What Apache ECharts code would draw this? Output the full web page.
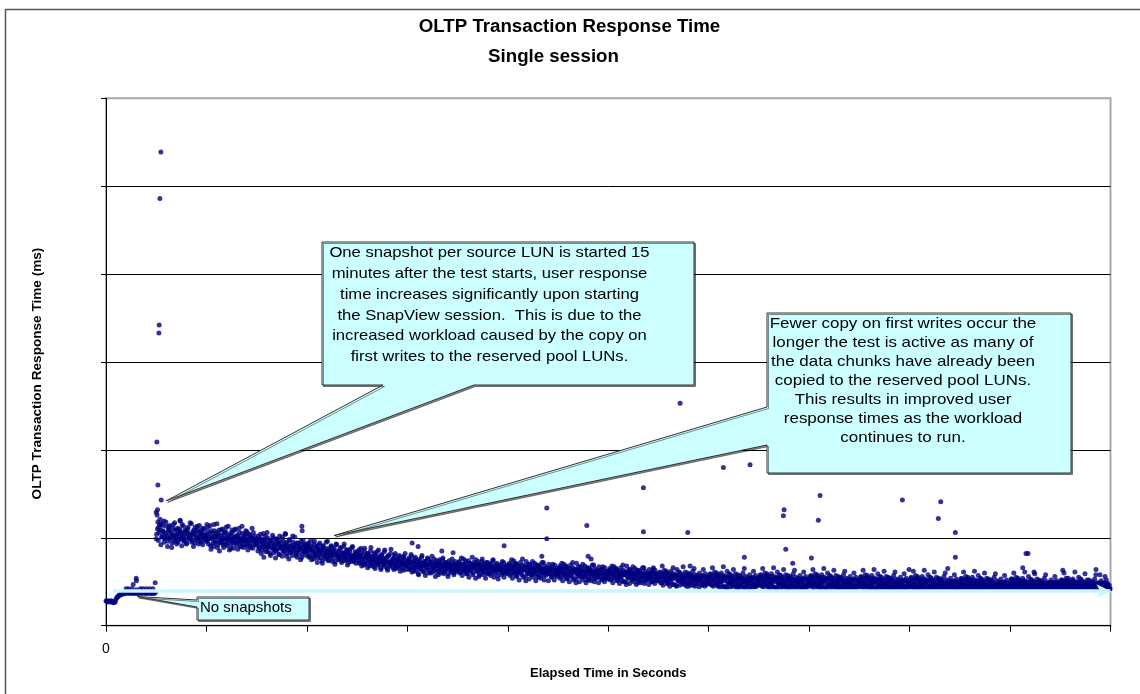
<!DOCTYPE html>
<html><head><meta charset="utf-8">
<script src="https://cdn.jsdelivr.net/npm/echarts@6/dist/echarts.min.js"></script>
<style>html,body{margin:0;padding:0;background:#fff}#c{width:1140px;height:694px}</style>
</head><body><div id="c"></div>
<script>
// ---- axis setup ----
const xTickLabels = ['0'];
const xRangeSec = [0, 18000, 1800];
const yRangeMs = [0, 60, 10];

// ---- data ----
const sampleSec = 15;
const preSnapshotMs = [2.8,2.8,2.7,2.8,2.8,2.7,2.8,2.8,2.7,2.6,2.7,2.7,3.0,3.2,3.3,3.4,3.5,3.5,3.6,3.6,3.6,3.7,3.7,3.7,4.2,3.7,3.8,4.2,3.7,3.7,3.8,4.2,3.7,3.7,3.8,3.7,4.1,3.7,3.7,3.8,3.7,4.2,3.7,3.7,4.2,3.8,3.7,3.7,4.2,3.7,3.7,3.8,4.2,3.7,3.7,3.7,4.2,3.7,3.7,3.8];
const snapshotStartSec = 900;
const segmentSec = 900;
// first reading in each half-sample slot, one row per 900 s
const postSnapshotMs = [
[12.9,12.6,11.8,11.2,11.5,10.9,11.6,10.2,10.8,11.9,9.9,10.5,11.3,10.1,9.6,10.9,11.4,10.0,10.6,9.4,11.1,10.3,11.7,9.8,10.4,10.9,9.5,10.2,11.0,10.7,9.9,11.5,10.1,9.6,10.4,10.8,9.3,10.6,11.2,9.9,10.3,10.0,11.6,9.7,10.5,10.9,9.4,10.2,10.7,11.3,9.8,10.1,10.6,9.5,10.9,10.3,11.1,9.9,10.4,10.0],
[10.3,9.6,11.2,9.9,10.5,9.1,10.8,10.0,9.4,11.5,10.2,9.7,10.6,8.9,10.1,10.9,9.5,10.3,9.8,11.0,9.2,10.4,9.9,10.7,9.3,10.0,11.3,9.6,10.2,8.8,9.9,10.6,9.4,10.1,10.9,9.7,9.2,10.3,9.8,11.1,9.5,10.0,9.0,10.5,9.7,9.3,10.2,10.8,9.6,9.1,9.9,10.4,9.4,8.9,10.1,9.7,10.6,9.2,9.8,9.5],
[9.8,9.1,10.2,8.8,9.5,9.9,8.6,9.3,10.5,9.0,9.6,8.4,9.2,10.0,8.9,9.4,8.2,9.7,9.1,10.3,8.7,9.0,9.5,8.5,9.8,8.9,9.3,8.1,9.6,9.0,8.7,10.1,8.4,9.2,8.8,9.5,7.9,9.0,8.6,9.7,8.3,9.1,8.8,10.2,8.5,8.9,9.3,8.0,9.4,8.6,8.2,9.0,8.7,9.6,7.8,8.9,8.4,9.2,8.6,8.8],
[8.9,8.2,9.4,8.6,7.9,9.1,8.4,8.8,7.6,9.6,8.3,8.0,8.9,7.7,9.2,8.5,8.1,8.7,7.4,9.0,8.2,8.6,7.8,9.5,8.3,7.9,8.8,7.5,8.4,9.1,8.0,7.7,8.6,8.2,7.3,9.3,8.1,7.9,8.5,7.6,8.8,8.0,7.4,8.3,9.0,7.7,8.2,7.5,8.6,7.9,7.2,8.4,8.0,7.6,8.9,7.8,7.3,8.1,7.7,8.3],
[8.1,7.5,8.6,7.8,7.2,8.3,7.6,8.0,6.9,8.8,7.4,7.9,7.1,8.2,7.7,6.8,8.5,7.3,7.9,7.5,6.7,8.1,7.6,7.2,8.4,7.0,7.8,7.4,6.6,8.0,7.3,7.7,6.9,8.6,7.1,7.5,6.5,7.9,7.2,6.8,8.2,7.4,7.0,7.6,6.4,8.0,7.1,6.7,7.5,7.3,6.6,7.8,7.0,6.9,7.4,6.3,7.7,7.1,6.8,7.2],
[7.3,6.8,7.7,6.5,7.1,7.9,6.6,7.4,6.2,7.0,7.6,6.7,7.2,5.9,7.5,6.9,6.4,7.8,6.8,7.1,6.1,7.3,6.6,7.0,7.7,6.3,6.9,7.4,6.0,7.2,6.7,6.5,7.6,6.8,6.2,7.1,6.9,5.8,7.3,6.6,7.0,6.4,7.5,6.7,6.1,7.2,6.8,6.5,7.0,5.9,7.4,6.6,6.9,6.3,7.1,6.7,6.0,7.3,6.5,6.8],
[6.9,6.4,7.3,6.7,6.1,7.0,6.5,7.6,6.8,6.2,7.1,6.6,5.9,7.4,6.7,6.3,7.0,6.9,6.0,7.2,6.5,6.8,7.5,6.2,6.6,7.0,5.8,6.9,6.4,7.3,6.7,6.1,7.1,6.5,6.8,5.9,7.2,6.6,6.3,7.0,6.7,6.0,7.4,6.4,6.9,6.2,6.6,7.1,5.7,6.8,6.5,6.3,7.0,6.6,6.0,7.2,6.4,6.7,6.1,6.9],
[6.7,6.2,7.1,6.5,5.9,6.9,6.4,7.4,6.0,6.6,7.0,5.7,6.8,6.3,6.1,7.2,6.5,5.8,6.9,6.4,6.7,5.6,7.3,6.2,6.6,6.0,7.0,6.3,5.8,6.8,6.5,6.1,7.1,5.9,6.4,6.7,5.5,6.9,6.2,6.6,6.0,7.2,6.3,5.7,6.8,6.5,6.1,6.4,5.9,7.0,6.2,6.6,5.6,6.7,6.3,6.0,6.9,5.8,6.5,6.2],
[6.4,5.9,6.8,6.2,5.6,6.6,6.1,7.0,5.8,6.3,6.7,5.4,6.5,6.0,5.7,6.9,6.2,5.5,6.6,6.1,6.4,5.3,7.1,5.9,6.3,5.8,6.7,6.0,5.5,6.5,6.2,5.7,6.8,5.6,6.1,6.4,5.2,6.6,5.9,6.3,5.7,6.9,6.0,5.4,6.5,6.2,5.8,6.1,5.5,6.7,5.9,6.3,5.3,6.4,6.0,5.6,6.6,5.4,6.2,5.8],
[6.1,5.6,6.5,5.9,5.3,6.3,5.8,6.7,5.5,6.0,6.4,5.2,6.2,5.7,5.4,6.6,5.9,5.1,6.3,5.8,6.1,5.0,6.8,5.6,6.0,5.5,6.4,5.7,5.2,6.2,5.9,5.4,6.5,5.3,5.8,6.1,4.9,6.3,5.6,6.0,5.4,6.6,5.7,5.1,6.2,5.9,5.5,5.8,5.2,6.4,5.6,6.0,5.0,6.1,5.7,5.3,6.3,5.1,5.9,5.5],
[5.7,5.2,6.1,5.5,4.9,5.9,5.4,6.3,5.1,5.6,6.0,4.8,5.8,5.3,5.0,6.2,5.5,4.7,5.9,5.4,5.7,4.6,6.4,5.2,5.6,5.1,6.0,5.3,4.8,5.8,5.5,5.0,6.1,4.9,5.4,5.7,4.5,5.9,5.2,5.6,5.0,6.2,5.3,4.7,5.8,5.5,5.1,5.4,4.8,6.0,5.2,5.6,4.6,5.7,5.3,4.9,5.9,4.7,5.5,5.1],
[5.5,4.9,5.9,5.2,4.6,5.7,5.1,6.1,4.8,5.4,5.8,4.5,5.6,5.0,4.7,6.0,5.3,4.4,5.7,5.1,5.5,4.4,6.2,4.9,5.4,4.8,5.8,5.0,4.5,5.6,5.2,4.7,5.9,4.6,5.1,5.5,4.3,5.7,4.9,5.3,4.7,6.0,5.0,4.4,5.6,5.2,4.8,5.1,4.5,5.8,4.9,5.4,4.4,5.5,5.0,4.6,5.7,4.5,5.3,4.8],
[5.4,4.8,5.8,5.1,4.5,5.6,5.0,6.0,4.7,5.3,5.7,4.4,5.5,4.9,4.6,5.9,5.2,4.4,5.6,5.0,5.4,4.3,6.1,4.8,5.3,4.7,5.7,4.9,4.4,5.5,5.1,4.6,5.8,4.5,5.0,5.4,4.3,5.6,4.8,5.2,4.6,5.9,4.9,4.4,5.5,5.1,4.7,5.0,4.4,5.7,4.8,5.3,4.3,5.4,4.9,4.5,5.6,4.4,5.2,4.7],
[5.3,4.7,5.7,5.0,4.5,5.5,4.9,5.9,4.6,5.2,5.6,4.4,5.4,4.8,4.5,5.8,5.1,4.3,5.5,4.9,5.3,4.3,6.0,4.7,5.2,4.6,5.6,4.8,4.4,5.4,5.0,4.5,5.7,4.4,4.9,5.3,4.3,5.5,4.7,5.1,4.5,5.8,4.8,4.3,5.4,5.0,4.6,4.9,4.4,5.6,4.7,5.2,4.3,5.3,4.8,4.5,5.5,4.4,5.1,4.6],
[5.2,4.6,5.6,4.9,4.4,5.4,4.8,5.8,4.5,5.1,5.5,4.3,5.3,4.7,4.4,5.7,5.0,4.3,5.4,4.8,5.2,4.3,5.9,4.6,5.1,4.5,5.5,4.7,4.3,5.3,4.9,4.4,5.6,4.4,4.8,5.2,4.3,5.4,4.6,5.0,4.4,5.7,4.7,4.3,5.3,4.9,4.5,4.8,4.3,5.5,4.6,5.1,4.3,5.2,4.7,4.4,5.4,4.3,5.0,4.5],
[5.1,4.5,5.5,4.8,4.3,5.3,4.7,5.7,4.4,5.0,5.4,4.3,5.2,4.6,4.4,5.6,4.9,4.3,5.3,4.7,5.1,4.3,5.8,4.5,5.0,4.4,5.4,4.6,4.3,5.2,4.8,4.4,5.5,4.3,4.7,5.1,4.3,5.3,4.5,4.9,4.4,5.6,4.6,4.3,5.2,4.8,4.4,4.7,4.3,5.4,4.5,5.0,4.3,5.1,4.6,4.4,5.3,4.3,4.9,4.5],
[5.0,4.5,5.4,4.7,4.3,5.2,4.6,5.6,4.4,4.9,5.3,4.3,5.1,4.5,4.4,5.5,4.8,4.3,5.2,4.6,5.0,4.3,5.7,4.5,4.9,4.4,5.3,4.6,4.3,5.1,4.7,4.4,5.4,4.3,4.6,5.0,4.3,5.2,4.5,4.8,4.4,5.5,4.6,4.3,5.1,4.7,4.4,4.6,4.3,5.3,4.5,4.9,4.3,5.0,4.6,4.4,5.2,4.3,4.8,4.5],
[4.9,4.4,5.3,4.7,4.3,5.1,4.6,5.5,4.4,4.8,5.2,4.3,5.0,4.5,4.3,5.4,4.7,4.3,5.1,4.5,4.9,4.3,5.6,4.4,4.8,4.4,5.2,4.6,4.3,5.0,4.7,4.4,5.3,4.3,4.6,4.9,4.3,5.1,4.5,4.8,4.4,5.4,4.6,4.3,5.0,4.7,4.4,4.6,4.3,5.2,4.5,4.9,4.3,5.0,4.6,4.4,5.1,4.3,4.8,4.5],
[4.9,4.4,5.2,4.6,4.3,5.0,4.5,5.4,4.4,4.8,5.1,4.3,4.9,4.5,4.3,5.3,4.6,4.3,5.0,4.5,4.8,4.3,5.5,4.4,4.7,4.4,5.1,4.5,4.3,4.9,4.6,4.4,5.2,4.3,4.6,4.8,4.3,5.0,4.5,4.7,4.4,5.3,4.5,4.3,4.9,4.6,4.4,4.6,4.3,5.1,4.5,4.8,4.3,4.9,4.6,5.2,4.7,4.5,4.3,4.2]
];
// second reading in each half-sample slot
const postSnapshotMsB = [
[10.4,11.0,9.7,10.6,12.1,9.2,10.1,11.4,10.7,9.5,10.0,11.8,10.3,9.0,10.8,11.2,9.9,10.5,8.9,10.2,11.5,9.6,10.9,10.0,9.3,11.1,10.4,9.8,12.0,10.6,9.1,10.3,11.3,9.7,10.8,10.1,9.4,11.0,10.5,9.9,11.7,10.2,9.5,10.7,9.0,10.4,11.2,9.8,10.0,10.9,9.3,11.4,10.3,9.7,10.6,9.2,10.1,11.0,9.6,10.2],
[9.8,10.7,9.3,10.1,11.4,8.7,9.9,10.5,9.0,10.8,9.5,10.2,11.6,9.2,10.4,8.5,9.7,10.9,9.4,10.0,8.9,10.6,9.6,11.2,9.1,10.3,9.8,8.6,10.5,9.3,10.9,9.7,8.8,10.1,11.0,9.4,10.2,8.7,9.9,10.6,9.0,9.5,11.3,10.0,8.9,9.8,10.4,9.2,10.7,8.6,9.6,10.3,9.1,10.0,11.1,8.8,9.7,10.2,9.3,9.9],
[9.4,8.5,9.9,8.9,10.4,8.2,9.6,9.1,7.8,9.8,8.7,9.3,10.6,8.4,9.0,9.7,8.0,9.5,8.8,10.0,8.3,9.2,7.7,9.9,8.6,9.4,8.1,10.2,8.9,9.1,7.9,9.6,8.5,9.0,10.4,8.2,9.3,8.7,7.6,9.8,8.4,9.1,8.0,9.5,8.8,10.1,8.3,9.0,7.8,9.4,8.6,8.9,7.5,9.2,8.1,9.7,8.4,8.7,9.3,8.0],
[8.5,9.2,7.8,8.9,9.7,7.5,8.6,8.1,9.3,7.9,8.4,9.0,7.2,8.7,8.2,9.4,7.7,8.5,7.1,9.1,8.0,8.8,7.6,8.3,9.6,7.4,8.6,7.9,8.2,9.0,7.3,8.4,8.8,7.0,8.1,9.2,7.7,8.5,7.5,8.0,8.9,7.2,8.3,7.8,9.3,7.4,8.1,8.6,6.9,8.2,7.6,8.7,7.3,8.0,9.0,7.5,7.9,8.4,7.1,7.8],
[7.7,8.4,7.1,8.0,8.8,6.8,7.6,7.2,8.5,7.0,7.8,8.2,6.6,7.5,8.0,7.3,8.9,6.9,7.7,7.1,8.3,6.5,7.4,7.9,6.9,8.6,7.2,7.6,6.4,8.1,7.0,7.5,8.4,6.7,7.3,7.8,6.3,8.0,7.1,6.9,8.7,7.4,6.6,7.7,7.0,8.2,6.5,7.3,7.6,6.8,8.0,6.2,7.2,7.5,6.6,7.9,6.9,7.1,6.4,7.4],
[7.0,7.5,6.4,7.2,8.1,6.1,6.9,7.3,6.6,7.8,6.3,7.0,6.8,5.8,7.4,6.5,7.1,8.0,6.2,6.8,7.3,5.7,7.0,6.6,7.6,6.0,6.9,7.2,6.4,7.9,6.1,6.7,7.1,5.6,7.4,6.5,6.8,6.2,7.5,6.0,7.0,6.6,7.7,5.9,6.9,6.3,7.2,6.7,5.6,7.1,6.4,6.9,6.1,7.6,6.5,5.8,7.0,6.3,6.8,6.2],
[6.6,7.2,6.0,6.9,7.7,5.7,6.5,7.0,6.2,7.4,5.9,6.7,6.4,5.5,7.1,6.3,6.8,7.8,5.8,6.6,7.0,5.4,6.9,6.2,7.3,5.6,6.5,6.9,6.1,7.6,5.8,6.4,6.8,5.4,7.2,6.1,6.6,5.9,7.0,5.7,6.7,6.3,7.5,5.5,6.5,6.0,6.9,6.4,5.3,6.8,6.2,6.6,5.8,7.3,6.1,5.5,6.7,6.0,6.5,5.9],
[6.3,6.9,5.7,6.6,7.5,5.4,6.2,6.8,5.9,7.1,5.6,6.4,6.1,5.2,6.8,6.0,6.5,7.6,5.5,6.3,6.7,5.1,6.6,5.9,7.0,5.3,6.2,6.6,5.8,7.3,5.5,6.1,6.5,5.1,6.9,5.8,6.3,5.6,6.7,5.4,6.4,6.0,7.2,5.2,6.2,5.7,6.6,6.1,5.1,6.5,5.9,6.3,5.5,7.0,5.8,5.2,6.4,5.7,6.2,5.6],
[6.0,6.6,5.4,6.3,7.1,5.1,5.9,6.5,5.6,6.8,5.3,6.1,5.8,5.0,6.5,5.7,6.2,7.2,5.2,6.0,6.4,4.9,6.3,5.6,6.7,5.0,5.9,6.3,5.5,7.0,5.2,5.8,6.2,4.9,6.6,5.5,6.0,5.3,6.4,5.1,6.1,5.7,6.9,5.0,5.9,5.4,6.3,5.8,4.9,6.2,5.6,6.0,5.2,6.7,5.5,5.0,6.1,5.4,5.9,5.3],
[5.8,6.3,5.2,6.0,6.8,4.9,5.7,6.2,5.4,6.5,5.1,5.9,5.6,4.8,6.2,5.5,5.9,6.9,5.0,5.8,6.1,4.7,6.0,5.4,6.4,4.8,5.7,6.0,5.3,6.7,5.0,5.6,5.9,4.7,6.3,5.3,5.8,5.1,6.1,4.9,5.9,5.5,6.6,4.8,5.7,5.2,6.0,5.6,4.7,5.9,5.4,5.8,5.0,6.4,5.3,4.8,5.9,5.2,5.7,5.1],
[5.5,6.0,4.9,5.7,6.8,4.6,5.4,5.9,5.1,6.2,4.8,5.6,5.3,4.5,5.9,5.2,5.6,6.6,4.7,5.5,5.8,4.5,5.7,5.1,6.1,4.6,5.4,5.7,5.0,6.7,4.7,5.3,5.6,4.5,6.0,5.0,5.5,4.8,5.8,4.6,5.6,5.2,6.5,4.5,5.4,4.9,5.7,5.3,4.4,5.6,5.1,5.5,4.7,6.4,5.0,4.5,5.6,4.9,5.4,4.8],
[5.3,5.8,4.7,5.5,6.6,4.5,5.2,5.7,4.9,6.0,4.6,5.4,5.1,4.4,5.7,5.0,5.4,6.7,4.5,5.3,5.6,4.3,5.5,4.9,5.9,4.4,5.2,5.5,4.8,6.4,4.5,5.1,5.4,4.3,5.8,4.8,5.3,4.6,5.6,4.4,5.4,5.0,6.5,4.3,5.2,4.7,5.5,5.1,4.3,5.4,4.9,5.3,4.5,6.2,4.8,4.4,5.4,4.7,5.2,4.6],
[5.2,5.7,4.6,5.4,6.5,4.4,5.1,5.6,4.8,5.9,4.5,5.3,5.0,4.3,5.6,4.9,5.3,6.6,4.4,5.2,5.5,4.3,5.4,4.8,5.8,4.3,5.1,5.4,4.7,6.4,4.4,5.0,5.3,4.3,5.7,4.7,5.2,4.5,5.5,4.3,5.3,4.9,6.3,4.3,5.1,4.6,5.4,5.0,4.3,5.3,4.8,5.2,4.4,6.1,4.7,4.3,5.3,4.6,5.1,4.5],
[5.1,5.6,4.5,5.3,6.4,4.3,5.0,5.5,4.7,5.8,4.4,5.2,4.9,4.3,5.5,4.8,5.2,6.5,4.4,5.1,5.4,4.3,5.3,4.7,5.7,4.3,5.0,5.3,4.6,6.3,4.4,4.9,5.2,4.3,5.6,4.6,5.1,4.4,5.4,4.3,5.2,4.8,6.2,4.3,5.0,4.5,5.3,4.9,4.3,5.2,4.7,5.1,4.4,6.0,4.6,4.3,5.2,4.5,5.0,4.4],
[5.0,5.5,4.5,5.2,6.3,4.3,4.9,5.4,4.6,5.7,4.4,5.1,4.8,4.3,5.4,4.7,5.1,6.4,4.3,5.0,5.3,4.3,5.2,4.6,5.6,4.3,4.9,5.2,4.5,6.2,4.3,4.8,5.1,4.3,5.5,4.5,5.0,4.4,5.3,4.3,5.1,4.7,6.1,4.3,4.9,4.5,5.2,4.8,4.3,5.1,4.6,5.0,4.3,5.9,4.5,4.3,5.1,4.4,4.9,4.4],
[4.9,5.4,4.4,5.1,6.2,4.3,4.8,5.3,4.5,5.6,4.3,5.0,4.7,4.3,5.3,4.6,5.0,6.3,4.3,4.9,5.2,4.3,5.1,4.5,5.5,4.3,4.8,5.1,4.4,6.1,4.3,4.7,5.0,4.3,5.4,4.5,4.9,4.3,5.2,4.3,5.0,4.6,6.0,4.3,4.8,4.4,5.1,4.7,4.3,5.0,4.5,4.9,4.3,5.8,4.4,4.3,5.0,4.4,4.8,4.3],
[4.9,5.3,4.4,5.0,6.1,4.3,4.7,5.2,4.5,5.5,4.3,4.9,4.6,4.3,5.2,4.6,4.9,6.2,4.3,4.8,5.1,4.3,5.0,4.5,5.4,4.3,4.7,5.0,4.4,6.0,4.3,4.6,5.0,4.3,5.3,4.4,4.8,4.3,5.1,4.3,4.9,4.6,5.9,4.3,4.7,4.4,5.0,4.6,4.3,4.9,4.5,4.8,4.3,5.7,4.4,4.3,4.9,4.4,4.7,4.3],
[4.8,5.3,4.4,5.0,6.0,4.3,4.7,5.1,4.4,5.4,4.3,4.9,4.6,4.3,5.1,4.5,4.9,6.1,4.3,4.8,5.0,4.3,4.9,4.5,5.3,4.3,4.7,5.0,4.4,5.9,4.3,4.6,4.9,4.3,5.2,4.4,4.8,4.3,5.0,4.3,4.9,4.5,5.8,4.3,4.7,4.4,4.9,4.6,4.3,4.9,4.5,4.8,4.3,5.6,4.4,4.3,4.9,4.4,4.7,4.3],
[4.8,5.2,4.4,4.9,6.0,4.3,4.6,5.1,4.4,5.4,4.3,4.8,4.6,4.3,5.1,4.5,4.8,6.1,4.3,4.7,5.0,4.3,4.9,4.4,5.3,4.3,4.6,4.9,4.4,5.9,4.3,4.6,4.9,4.3,5.2,4.4,4.7,4.3,5.0,4.3,4.8,4.5,5.8,4.3,4.7,4.4,4.9,4.5,4.3,4.8,4.5,4.7,4.3,5.6,4.4,4.3,4.8,4.4,4.6,4.2]
];
const spikePoints = [
[983,53.9],[966,48.6],[953,34.2],[948,33.3],[912,20.9],[930,16.0],[989,14.3],[923,13.2],[899,9.9],[881,4.9],
[487,4.7],[541,5.4],[545,5.1],
[1329,11.9],[1808,11.5],[2852,10.2],[3211,10.5],[3510,11.3],[3515,10.8],
[5360,8.2],[5486,9.4],[5593,9.0],[6018,8.5],[6220,8.3],[7134,9.1],[7810,7.9],[7899,13.4],[7899,9.9],
[8616,11.4],[8639,7.9],[8693,7.6],[9630,15.7],[9630,10.7],[9809,6.6],[10287,25.3],[10425,10.6],[10467,6.8],
[11063,18.0],[11541,18.3],[11439,7.8],[12151,13.2],[12138,12.5],[12181,8.7],[12306,7.1],[12796,14.8],[12765,12.0],[12640,7.7],
[14270,14.3],[14390,6.4],[14958,14.1],[14915,12.2],[15220,10.6],[15220,7.8],[15083,6.5],
[16486,8.2],[16522,8.2],[16427,6.6],[16629,6.1],[17144,6.3],[17740,6.4],[17812,5.8]
];
// light-cyan reference arrow ("no snapshot" level): start sec, end sec, level ms
const noSnapshotArrow = [130, 18000, 3.95];

// ---- annotation texts ----
const titleLines = ['OLTP Transaction Response Time', 'Single session'];
const xAxisTitle = 'Elapsed Time in Seconds';
const yAxisTitle = 'OLTP Transaction Response Time (ms)';
const calloutA = ['One snapshot per source LUN is started 15','minutes after the test starts, user response','time increases significantly upon starting','the SnapView session.  This is due to the','increased workload caused by the copy on','first writes to the reserved pool LUNs.'];
const calloutB = ['Fewer copy on first writes occur the','longer the test is active as many of','the data chunks have already been','copied to the reserved pool LUNs.','This results in improved user','response times as the workload','continues to run.'];
const calloutC = 'No snapshots';
// callout tip targets in data coords [sec, ms]
const tipA = [1079, 14.2], tipB = [4088, 10.26], tipC = [559, 3.32];

// ---- build ----
const FONT = '"Liberation Sans", Arial, sans-serif';
const points = preSnapshotMs.map((v, i) => [i * sampleSec, v]);
postSnapshotMs.forEach((seg, k) => seg.forEach((v, j) => points.push([snapshotStartSec + k * segmentSec + j * segmentSec / seg.length, v])));
postSnapshotMsB.forEach((seg, k) => seg.forEach((v, j) => points.push([snapshotStartSec + k * segmentSec + (j + 0.5) * segmentSec / seg.length, v])));

const chart = echarts.init(document.getElementById('c'), null, {renderer: 'canvas'});
const dotStyle = {type: 'scatter', symbol: 'circle', symbolSize: 5, itemStyle: {color: '#000080'}, silent: true, z: 2, large: false};
chart.setOption({
  animation: false,
  backgroundColor: '#fff',
  grid: {left: 106, right: 29.5, top: 98.3, bottom: 68.3, show: true, borderColor: '#a8a8a8', borderWidth: 2, backgroundColor: 'transparent'},
  xAxis: {
    type: 'value', min: xRangeSec[0], max: xRangeSec[1], interval: xRangeSec[2],
    name: xAxisTitle, nameLocation: 'middle', nameGap: 41,
    nameTextStyle: {fontFamily: FONT, fontSize: 13, fontWeight: 'bold', color: '#000'},
    axisLine: {show: true, lineStyle: {color: '#000', width: 1}},
    axisTick: {show: true, inside: false, length: 6, lineStyle: {color: '#000'}},
    axisLabel: {show: true, margin: 16, fontFamily: FONT, fontSize: 14, color: '#000',
      formatter: v => (v === 0 ? xTickLabels[0] : '')},
    splitLine: {show: false}
  },
  yAxis: {
    type: 'value', min: yRangeMs[0], max: yRangeMs[1], interval: yRangeMs[2],
    axisLine: {show: true, lineStyle: {color: '#000', width: 1}},
    axisTick: {show: true, inside: false, length: 5, lineStyle: {color: '#000'}},
    axisLabel: {show: false},
    splitLine: {show: true, showMinLine: false, showMaxLine: false, lineStyle: {color: '#000', width: 1}}
  },
  series: [
    Object.assign({data: points}, dotStyle),
    Object.assign({data: spikePoints}, dotStyle),
    {type: 'line', data: [[noSnapshotArrow[0], noSnapshotArrow[2]], [noSnapshotArrow[1], noSnapshotArrow[2]]],
      showSymbol: false, lineStyle: {opacity: 0}, silent: true, z: 3,
      markLine: {silent: true, symbol: ['none', 'arrow'], symbolSize: [10, 14], label: {show: false},
        lineStyle: {color: '#c8f7fd', width: 3.5, type: 'solid'},
        data: [[{coord: [noSnapshotArrow[0], noSnapshotArrow[2]]}, {coord: [noSnapshotArrow[1], noSnapshotArrow[2]]}]]}}
  ]
});

const pA = chart.convertToPixel({gridIndex: 0}, tipA);
const pB = chart.convertToPixel({gridIndex: 0}, tipB);
const pC = chart.convertToPixel({gridIndex: 0}, tipC);
const calloutStyle = {fill: '#ccffff', stroke: '#333', lineWidth: 1, shadowColor: 'rgba(0,0,0,0.45)', shadowOffsetX: 1.5, shadowOffsetY: 1.5, shadowBlur: 0};
function lines(arr, cx, y0, step, size, sx) {
  return arr.map((t, i) => ({type: 'text', z: 20, x: cx, y: y0 + i * step, scaleX: sx,
    style: {text: t, x: 0, y: 0, fill: '#000', font: size + 'px ' + FONT, textAlign: 'center', textVerticalAlign: 'middle'}}));
}
chart.setOption({
  graphic: [
    {type: 'rect', z: 0, silent: true, shape: {x: 5.5, y: 9.5, width: 1200, height: 800}, style: {fill: 'none', stroke: '#555', lineWidth: 1.5}},
    {type: 'text', z: 20, style: {text: titleLines[0], x: 569.5, y: 27, font: 'bold 18.7px ' + FONT, fill: '#000', textAlign: 'center', textVerticalAlign: 'middle'}},
    {type: 'text', z: 20, style: {text: titleLines[1], x: 553.5, y: 57, font: 'bold 18.7px ' + FONT, fill: '#000', textAlign: 'center', textVerticalAlign: 'middle'}},
    {type: 'text', z: 20, x: 37, y: 373.5, rotation: Math.PI / 2,
      style: {text: yAxisTitle, x: 0, y: 0, font: 'bold 13.6px ' + FONT, fill: '#000', textAlign: 'center', textVerticalAlign: 'middle'}},
    {type: 'polygon', z: 10, shape: {points: [[322,242],[694,242],[694,385],[474,385],pA,[383,385],[322,385]]}, style: calloutStyle},
    {type: 'polygon', z: 10, shape: {points: [[767,313],[1071,313],[1071,473],[767,473],[767,445],pB,[767,407]]}, style: calloutStyle},
    {type: 'polygon', z: 10, shape: {points: [[197,597],[309,597],[309,620],[197,620],[197,607],pC,[197,600]]}, style: calloutStyle},
    ...lines(calloutA, 489.5, 253, 20.8, 15, 1.11),
    ...lines(calloutB, 903, 324, 18.9, 15, 1.13),
    {type: 'text', z: 20, style: {text: calloutC, x: 200, y: 608, fill: '#000', font: '15px ' + FONT, textAlign: 'left', textVerticalAlign: 'middle'}}
  ]
});
</script></body></html>
